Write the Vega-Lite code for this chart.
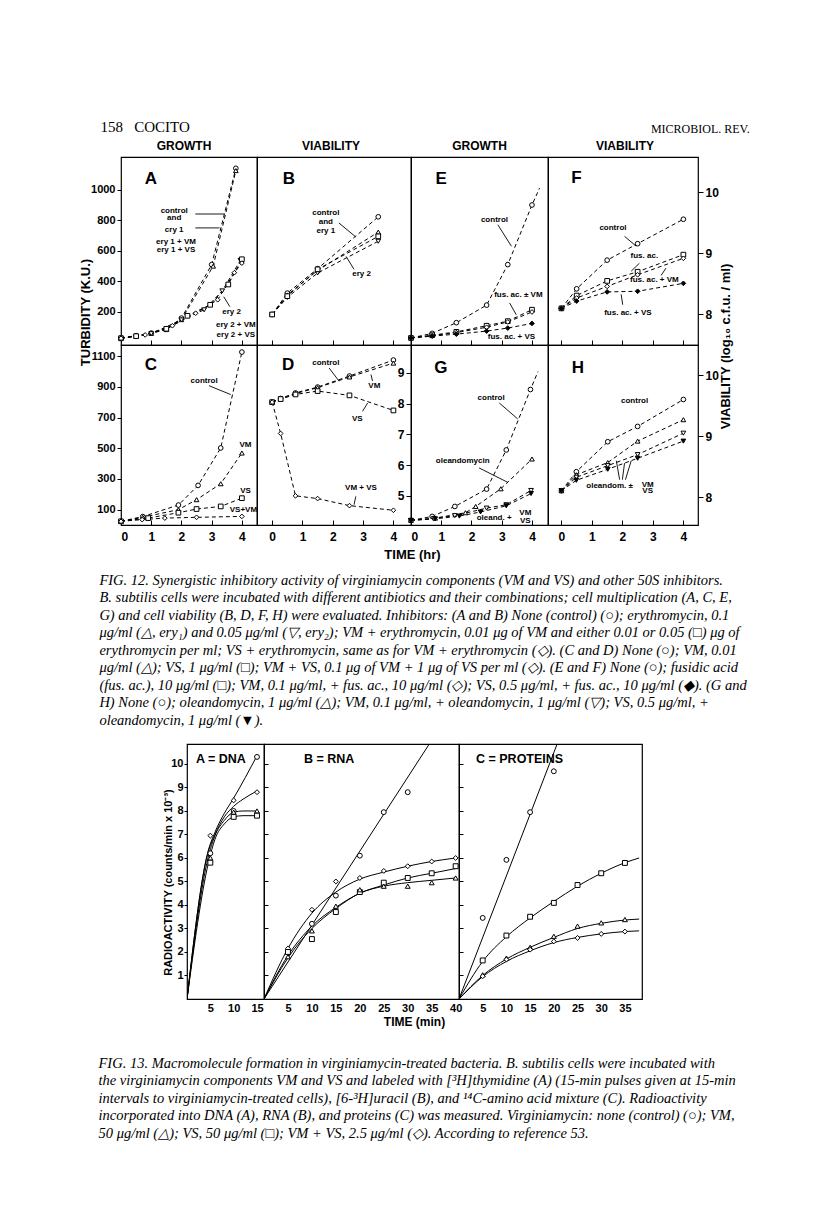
{
  "$schema": "https://vega.github.io/schema/vega-lite/v6.json",
  "background": "white",
  "padding": {"left": 78, "top": 120, "right": 5, "bottom": 5},
  "title": {"text": "158\u00a0\u00a0\u00a0COCITO", "anchor": "start", "frame": "bounds", "font": "Liberation Serif", "fontSize": 15, "fontWeight": "normal", "baseline": "bottom", "offset": 0, "dx": 22, "dy": 27},
  "spacing": 15,
  "datasets": {
    "fig12": [
      {"panel":"A","series":"control","sym":"○","t":0,"v":30},{"panel":"A","series":"control","sym":"○","t":0.5,"v":45},{"panel":"A","series":"control","sym":"○","t":1,"v":62},{"panel":"A","series":"control","sym":"○","t":1.5,"v":88},{"panel":"A","series":"control","sym":"○","t":2,"v":160},{"panel":"A","series":"control","sym":"○","t":3,"v":510},{"panel":"A","series":"control","sym":"○","t":3.8,"v":1140},
      {"panel":"A","series":"ery 1","sym":"△","t":0,"v":30},{"panel":"A","series":"ery 1","sym":"△","t":0.5,"v":42},{"panel":"A","series":"ery 1","sym":"△","t":1,"v":60},{"panel":"A","series":"ery 1","sym":"△","t":1.5,"v":85},{"panel":"A","series":"ery 1","sym":"△","t":2,"v":150},{"panel":"A","series":"ery 1","sym":"△","t":3.05,"v":500},{"panel":"A","series":"ery 1","sym":"△","t":3.8,"v":1125},
      {"panel":"A","series":"ery 2","sym":"▽","t":0,"v":28},{"panel":"A","series":"ery 2","sym":"▽","t":1,"v":58},{"panel":"A","series":"ery 2","sym":"▽","t":2,"v":148},{"panel":"A","series":"ery 2","sym":"▽","t":2.75,"v":214},{"panel":"A","series":"ery 2","sym":"▽","t":3.35,"v":338},{"panel":"A","series":"ery 2","sym":"▽","t":3.95,"v":537},
      {"panel":"A","series":"ery 2 + VM","sym":"□","t":0,"v":28},{"panel":"A","series":"ery 2 + VM","sym":"□","t":0.5,"v":42},{"panel":"A","series":"ery 2 + VM","sym":"□","t":1.5,"v":90},{"panel":"A","series":"ery 2 + VM","sym":"□","t":2.2,"v":175},{"panel":"A","series":"ery 2 + VM","sym":"□","t":2.95,"v":247},{"panel":"A","series":"ery 2 + VM","sym":"□","t":3.55,"v":380},{"panel":"A","series":"ery 2 + VM","sym":"□","t":4,"v":545},
      {"panel":"A","series":"ery 2 + VS","sym":"◇","t":0,"v":28},{"panel":"A","series":"ery 2 + VS","sym":"◇","t":0.8,"v":50},{"panel":"A","series":"ery 2 + VS","sym":"◇","t":1.7,"v":110},{"panel":"A","series":"ery 2 + VS","sym":"◇","t":2.47,"v":192},{"panel":"A","series":"ery 2 + VS","sym":"◇","t":3.2,"v":280},{"panel":"A","series":"ery 2 + VS","sym":"◇","t":3.75,"v":457},{"panel":"A","series":"ery 2 + VS","sym":"◇","t":4,"v":520},

      {"panel":"B","series":"control","sym":"○","t":0,"v":8.0},{"panel":"B","series":"control","sym":"○","t":0.5,"v":8.35},{"panel":"B","series":"control","sym":"○","t":1.5,"v":8.75},{"panel":"B","series":"control","sym":"○","t":3.5,"v":9.6},
      {"panel":"B","series":"ery 1","sym":"△","t":0,"v":8.0},{"panel":"B","series":"ery 1","sym":"△","t":0.5,"v":8.32},{"panel":"B","series":"ery 1","sym":"△","t":1.5,"v":8.72},{"panel":"B","series":"ery 1","sym":"△","t":3.5,"v":9.35},
      {"panel":"B","series":"ery 2","sym":"▽","t":0,"v":8.0},{"panel":"B","series":"ery 2","sym":"▽","t":0.5,"v":8.28},{"panel":"B","series":"ery 2","sym":"▽","t":1.5,"v":8.68},{"panel":"B","series":"ery 2","sym":"▽","t":3.5,"v":9.2},
      {"panel":"B","series":"ery + VM","sym":"□","t":0,"v":8.0},{"panel":"B","series":"ery + VM","sym":"□","t":0.5,"v":8.3},{"panel":"B","series":"ery + VM","sym":"□","t":1.5,"v":8.74},{"panel":"B","series":"ery + VM","sym":"□","t":3.5,"v":9.28},

      {"panel":"E","series":"control","sym":"○","t":0,"v":30},{"panel":"E","series":"control","sym":"○","t":0.7,"v":60},{"panel":"E","series":"control","sym":"○","t":1.5,"v":130},{"panel":"E","series":"control","sym":"○","t":2.5,"v":245},{"panel":"E","series":"control","sym":"○","t":3.2,"v":510},{"panel":"E","series":"control","sym":"○","t":4.0,"v":900},{"panel":"E","series":"control","t":4.25,"v":1010},
      {"panel":"E","series":"fus. ac.","sym":"□","t":0,"v":30},{"panel":"E","series":"fus. ac.","sym":"□","t":0.7,"v":48},{"panel":"E","series":"fus. ac.","sym":"□","t":1.5,"v":70},{"panel":"E","series":"fus. ac.","sym":"□","t":2.5,"v":110},{"panel":"E","series":"fus. ac.","sym":"□","t":3.2,"v":140},{"panel":"E","series":"fus. ac.","sym":"□","t":4.0,"v":215},
      {"panel":"E","series":"fus. ac. + VM","sym":"◇","t":0,"v":30},{"panel":"E","series":"fus. ac. + VM","sym":"◇","t":0.7,"v":45},{"panel":"E","series":"fus. ac. + VM","sym":"◇","t":1.5,"v":65},{"panel":"E","series":"fus. ac. + VM","sym":"◇","t":2.5,"v":100},{"panel":"E","series":"fus. ac. + VM","sym":"◇","t":3.2,"v":135},{"panel":"E","series":"fus. ac. + VM","sym":"◇","t":4.0,"v":200},
      {"panel":"E","series":"fus. ac. + VS","sym":"◆","t":0,"v":30},{"panel":"E","series":"fus. ac. + VS","sym":"◆","t":0.7,"v":42},{"panel":"E","series":"fus. ac. + VS","sym":"◆","t":1.5,"v":55},{"panel":"E","series":"fus. ac. + VS","sym":"◆","t":2.5,"v":75},{"panel":"E","series":"fus. ac. + VS","sym":"◆","t":3.2,"v":95},{"panel":"E","series":"fus. ac. + VS","sym":"◆","t":4.0,"v":125},

      {"panel":"F","series":"control","sym":"○","t":0,"v":8.1},{"panel":"F","series":"control","sym":"○","t":0.5,"v":8.42},{"panel":"F","series":"control","sym":"○","t":1.5,"v":8.89},{"panel":"F","series":"control","sym":"○","t":2.5,"v":9.16},{"panel":"F","series":"control","sym":"○","t":4,"v":9.56},
      {"panel":"F","series":"fus. ac.","sym":"□","t":0,"v":8.1},{"panel":"F","series":"fus. ac.","sym":"□","t":0.5,"v":8.31},{"panel":"F","series":"fus. ac.","sym":"□","t":1.5,"v":8.55},{"panel":"F","series":"fus. ac.","sym":"□","t":2.5,"v":8.7},{"panel":"F","series":"fus. ac.","sym":"□","t":4,"v":8.98},
      {"panel":"F","series":"fus. ac. + VM","sym":"◇","t":0,"v":8.1},{"panel":"F","series":"fus. ac. + VM","sym":"◇","t":0.5,"v":8.27},{"panel":"F","series":"fus. ac. + VM","sym":"◇","t":1.5,"v":8.46},{"panel":"F","series":"fus. ac. + VM","sym":"◇","t":2.5,"v":8.65},{"panel":"F","series":"fus. ac. + VM","sym":"◇","t":4,"v":8.92},
      {"panel":"F","series":"fus. ac. + VS","sym":"◆","t":0,"v":8.1},{"panel":"F","series":"fus. ac. + VS","sym":"◆","t":0.5,"v":8.22},{"panel":"F","series":"fus. ac. + VS","sym":"◆","t":1.5,"v":8.37},{"panel":"F","series":"fus. ac. + VS","sym":"◆","t":2.5,"v":8.38},{"panel":"F","series":"fus. ac. + VS","sym":"◆","t":4,"v":8.51},

      {"panel":"C","series":"control","sym":"○","t":0,"v":24},{"panel":"C","series":"control","sym":"○","t":0.72,"v":55},{"panel":"C","series":"control","sym":"○","t":1.9,"v":130},{"panel":"C","series":"control","sym":"○","t":2.55,"v":258},{"panel":"C","series":"control","sym":"○","t":3.3,"v":502},{"panel":"C","series":"control","sym":"○","t":4.0,"v":1127},
      {"panel":"C","series":"VM","sym":"△","t":0,"v":24},{"panel":"C","series":"VM","sym":"△","t":0.72,"v":50},{"panel":"C","series":"VM","sym":"△","t":1.9,"v":100},{"panel":"C","series":"VM","sym":"△","t":2.5,"v":165},{"panel":"C","series":"VM","sym":"△","t":3.3,"v":269},{"panel":"C","series":"VM","sym":"△","t":4.0,"v":469},
      {"panel":"C","series":"VS","sym":"□","t":0,"v":24},{"panel":"C","series":"VS","sym":"□","t":0.9,"v":45},{"panel":"C","series":"VS","sym":"□","t":1.9,"v":80},{"panel":"C","series":"VS","sym":"□","t":2.5,"v":104},{"panel":"C","series":"VS","sym":"□","t":3.3,"v":121},{"panel":"C","series":"VS","sym":"□","t":4.0,"v":175},
      {"panel":"C","series":"VS+VM","sym":"◇","t":0,"v":24},{"panel":"C","series":"VS+VM","sym":"◇","t":0.7,"v":35},{"panel":"C","series":"VS+VM","sym":"◇","t":1.45,"v":45},{"panel":"C","series":"VS+VM","sym":"◇","t":2.5,"v":50},{"panel":"C","series":"VS+VM","sym":"◇","t":4.0,"v":56},

      {"panel":"D","series":"control","sym":"○","t":0,"v":8.05},{"panel":"D","series":"control","sym":"○","t":0.28,"v":8.17},{"panel":"D","series":"control","sym":"○","t":0.77,"v":8.35},{"panel":"D","series":"control","sym":"○","t":1.5,"v":8.54},{"panel":"D","series":"control","sym":"○","t":2.55,"v":8.9},{"panel":"D","series":"control","sym":"○","t":4.0,"v":9.42},
      {"panel":"D","series":"VM","sym":"△","t":0,"v":8.05},{"panel":"D","series":"VM","sym":"△","t":0.28,"v":8.15},{"panel":"D","series":"VM","sym":"△","t":0.77,"v":8.33},{"panel":"D","series":"VM","sym":"△","t":1.5,"v":8.52},{"panel":"D","series":"VM","sym":"△","t":2.55,"v":8.87},{"panel":"D","series":"VM","sym":"△","t":4.0,"v":9.32},
      {"panel":"D","series":"VS","sym":"□","t":0,"v":8.05},{"panel":"D","series":"VS","sym":"□","t":0.28,"v":8.15},{"panel":"D","series":"VS","sym":"□","t":0.77,"v":8.3},{"panel":"D","series":"VS","sym":"□","t":1.5,"v":8.41},{"panel":"D","series":"VS","sym":"□","t":2.55,"v":8.27},{"panel":"D","series":"VS","sym":"□","t":4.0,"v":7.78},
      {"panel":"D","series":"VM + VS","sym":"◇","t":0,"v":8.05},{"panel":"D","series":"VM + VS","sym":"◇","t":0.28,"v":7.03},{"panel":"D","series":"VM + VS","sym":"◇","t":0.77,"v":5.0},{"panel":"D","series":"VM + VS","sym":"◇","t":1.5,"v":4.91},{"panel":"D","series":"VM + VS","sym":"◇","t":2.55,"v":4.68},{"panel":"D","series":"VM + VS","sym":"◇","t":4.0,"v":4.53},

      {"panel":"G","series":"control","sym":"○","t":0,"v":30},{"panel":"G","series":"control","sym":"○","t":0.7,"v":56},{"panel":"G","series":"control","sym":"○","t":1.45,"v":121},{"panel":"G","series":"control","sym":"○","t":2.5,"v":234},{"panel":"G","series":"control","sym":"○","t":3.15,"v":489},{"panel":"G","series":"control","sym":"○","t":3.95,"v":883},{"panel":"G","series":"control","t":4.2,"v":1000},
      {"panel":"G","series":"oleandomycin","sym":"△","t":0,"v":30},{"panel":"G","series":"oleandomycin","sym":"△","t":0.8,"v":45},{"panel":"G","series":"oleandomycin","sym":"△","t":1.8,"v":80},{"panel":"G","series":"oleandomycin","sym":"△","t":2.14,"v":121},{"panel":"G","series":"oleandomycin","sym":"△","t":2.97,"v":236},{"panel":"G","series":"oleandomycin","sym":"△","t":4.0,"v":430},
      {"panel":"G","series":"VM + oleand.","sym":"▽","t":0,"v":30},{"panel":"G","series":"VM + oleand.","sym":"▽","t":0.75,"v":42},{"panel":"G","series":"VM + oleand.","sym":"▽","t":1.45,"v":61},{"panel":"G","series":"VM + oleand.","sym":"▽","t":2.5,"v":110},{"panel":"G","series":"VM + oleand.","sym":"▽","t":3.15,"v":132},{"panel":"G","series":"VM + oleand.","sym":"▽","t":3.97,"v":225},
      {"panel":"G","series":"VS + oleand.","sym":"▼","t":0,"v":30},{"panel":"G","series":"VS + oleand.","sym":"▼","t":0.8,"v":40},{"panel":"G","series":"VS + oleand.","sym":"▼","t":1.6,"v":58},{"panel":"G","series":"VS + oleand.","sym":"▼","t":2.3,"v":85},{"panel":"G","series":"VS + oleand.","sym":"▼","t":3.15,"v":125},{"panel":"G","series":"VS + oleand.","sym":"▼","t":3.97,"v":205},

      {"panel":"H","series":"control","sym":"○","t":0,"v":8.11},{"panel":"H","series":"control","sym":"○","t":0.49,"v":8.42},{"panel":"H","series":"control","sym":"○","t":1.52,"v":8.91},{"panel":"H","series":"control","sym":"○","t":2.5,"v":9.16},{"panel":"H","series":"control","sym":"○","t":4.0,"v":9.6},
      {"panel":"H","series":"oleandomycin","sym":"△","t":0,"v":8.11},{"panel":"H","series":"oleandomycin","sym":"△","t":0.49,"v":8.37},{"panel":"H","series":"oleandomycin","sym":"△","t":1.52,"v":8.57},{"panel":"H","series":"oleandomycin","sym":"△","t":2.5,"v":8.92},{"panel":"H","series":"oleandomycin","sym":"△","t":4.0,"v":9.27},
      {"panel":"H","series":"VM + oleand.","sym":"▽","t":0,"v":8.11},{"panel":"H","series":"VM + oleand.","sym":"▽","t":0.49,"v":8.33},{"panel":"H","series":"VM + oleand.","sym":"▽","t":1.52,"v":8.52},{"panel":"H","series":"VM + oleand.","sym":"▽","t":2.5,"v":8.7},{"panel":"H","series":"VM + oleand.","sym":"▽","t":4.0,"v":9.05},
      {"panel":"H","series":"VS + oleand.","sym":"▼","t":0,"v":8.11},{"panel":"H","series":"VS + oleand.","sym":"▼","t":0.49,"v":8.28},{"panel":"H","series":"VS + oleand.","sym":"▼","t":1.52,"v":8.46},{"panel":"H","series":"VS + oleand.","sym":"▼","t":2.5,"v":8.64},{"panel":"H","series":"VS + oleand.","sym":"▼","t":4.0,"v":8.92}
    ],
    "letters": [
      {"panel":"A","label":"A","t":0.99,"v":1070},{"panel":"B","label":"B","t":0.55,"v":10.22},{"panel":"E","label":"E","t":1.0,"v":1070},{"panel":"F","label":"F","t":0.49,"v":10.24},
      {"panel":"C","label":"C","t":0.99,"v":1043},{"panel":"D","label":"D","t":0.53,"v":9.26},{"panel":"G","label":"G","t":0.99,"v":1024},{"panel":"H","label":"H","t":0.54,"v":10.12}
    ],
    "notes": [
      {"panel":"A","label":"control","t":1.76,"v":862},{"panel":"A","label":"and","t":1.76,"v":815},{"panel":"A","label":"cry 1","t":1.76,"v":737},{"panel":"A","label":"ery 1 + VM","t":1.82,"v":660},{"panel":"A","label":"ery 1 + VS","t":1.82,"v":603},{"panel":"A","label":"ery 2","t":3.66,"v":200},{"panel":"A","label":"ery 2 + VM","t":3.8,"v":118},{"panel":"A","label":"ery 2 + VS","t":3.8,"v":52},
      {"panel":"B","label":"control","t":1.77,"v":9.66},{"panel":"B","label":"and","t":1.77,"v":9.51},{"panel":"B","label":"ery 1","t":1.77,"v":9.37},{"panel":"B","label":"ery 2","t":2.95,"v":8.67},
      {"panel":"E","label":"control","t":2.76,"v":804},{"panel":"E","label":"fus. ac. ± VM","t":3.55,"v":313},{"panel":"E","label":"fus. ac. + VS","t":3.32,"v":38},
      {"panel":"F","label":"control","t":1.69,"v":9.42},{"panel":"F","label":"fus. ac.","t":2.72,"v":8.95},{"panel":"F","label":"fus. ac. + VM","t":3.05,"v":8.56},{"panel":"F","label":"fus. ac. + VS","t":2.18,"v":8.03},
      {"panel":"C","label":"control","t":2.75,"v":937},{"panel":"C","label":"VM","t":4.12,"v":524},{"panel":"C","label":"VS","t":4.12,"v":220},{"panel":"C","label":"VS+VM","t":4.05,"v":100},
      {"panel":"D","label":"control","t":1.77,"v":9.33},{"panel":"D","label":"VM","t":3.37,"v":8.59},{"panel":"D","label":"VS","t":2.81,"v":7.5},{"panel":"D","label":"VM + VS","t":2.93,"v":5.25},
      {"panel":"G","label":"control","t":2.65,"v":828},{"panel":"G","label":"oleandomycin","t":1.71,"v":415},{"panel":"G","label":"oleand. +","t":2.75,"v":46},{"panel":"G","label":"VM","t":3.78,"v":80},{"panel":"G","label":"VS","t":3.78,"v":26},
      {"panel":"H","label":"control","t":2.4,"v":9.57},{"panel":"H","label":"oleandom. ±","t":1.58,"v":8.18},{"panel":"H","label":"VM","t":2.83,"v":8.21},{"panel":"H","label":"VS","t":2.83,"v":8.1}
    ],
    "pointers": [
      {"panel":"A","t":2.46,"v":841,"t2":3.42,"v2":841},{"panel":"A","t":2.46,"v":750,"t2":3.26,"v2":750},{"panel":"A","t":3.6,"v":235,"t2":3.4,"v2":300},
      {"panel":"B","t":2.2,"v":9.5,"t2":2.76,"v2":9.27},{"panel":"B","t":2.7,"v":8.74,"t2":2.44,"v2":8.95},
      {"panel":"E","t":2.87,"v":771,"t2":3.32,"v2":630},{"panel":"E","t":3.26,"v":259,"t2":3.48,"v2":182},
      {"panel":"F","t":2.07,"v":9.28,"t2":2.45,"v2":9.12},{"panel":"F","t":2.56,"v":8.84,"t2":2.29,"v2":8.71},{"panel":"F","t":3.43,"v":8.76,"t2":3.27,"v2":8.64},{"panel":"F","t":2.01,"v":8.16,"t2":1.96,"v2":8.33},
      {"panel":"C","t":2.91,"v":908,"t2":3.63,"v2":850},
      {"panel":"D","t":1.88,"v":9.16,"t2":2.21,"v2":8.73},{"panel":"D","t":3.31,"v":8.74,"t2":3.26,"v2":8.95},{"panel":"D","t":2.98,"v":7.75,"t2":3.15,"v2":8.02},{"panel":"D","t":2.76,"v":4.98,"t2":2.7,"v2":4.71},
      {"panel":"G","t":2.92,"v":795,"t2":3.53,"v2":691},{"panel":"G","t":2.25,"v":372,"t2":3.2,"v2":278},
      {"panel":"H","t":1.91,"v":8.29,"t2":1.8,"v2":8.6},{"panel":"H","t":2.0,"v":8.29,"t2":2.07,"v2":8.56},{"panel":"H","t":2.1,"v":8.29,"t2":2.29,"v2":8.6}
    ],
    "fig13pts": [
      {"panel":"DNA","sym":"○","t":5,"v":6.2},{"panel":"DNA","sym":"○","t":10,"v":8.0},{"panel":"DNA","sym":"○","t":15,"v":10.3},
      {"panel":"DNA","sym":"◇","t":5,"v":6.95},{"panel":"DNA","sym":"◇","t":10,"v":8.45},{"panel":"DNA","sym":"◇","t":15,"v":8.8},
      {"panel":"DNA","sym":"△","t":5,"v":6.0},{"panel":"DNA","sym":"△","t":10,"v":7.95},{"panel":"DNA","sym":"△","t":15,"v":8.0},
      {"panel":"DNA","sym":"□","t":5,"v":5.8},{"panel":"DNA","sym":"□","t":10,"v":7.75},{"panel":"DNA","sym":"□","t":15,"v":7.8},
      {"panel":"RNA","sym":"○","t":5,"v":2.05},{"panel":"RNA","sym":"○","t":10,"v":3.2},{"panel":"RNA","sym":"○","t":15,"v":4.4},{"panel":"RNA","sym":"○","t":20,"v":6.1},{"panel":"RNA","sym":"○","t":25,"v":7.95},{"panel":"RNA","sym":"○","t":30,"v":8.8},
      {"panel":"RNA","sym":"◇","t":5,"v":2.15},{"panel":"RNA","sym":"◇","t":10,"v":3.8},{"panel":"RNA","sym":"◇","t":15,"v":5.0},{"panel":"RNA","sym":"◇","t":20,"v":5.15},{"panel":"RNA","sym":"◇","t":25,"v":5.45},{"panel":"RNA","sym":"◇","t":30,"v":5.65},{"panel":"RNA","sym":"◇","t":35,"v":5.85},{"panel":"RNA","sym":"◇","t":40,"v":6.0},
      {"panel":"RNA","sym":"□","t":5,"v":2.0},{"panel":"RNA","sym":"□","t":10,"v":2.55},{"panel":"RNA","sym":"□","t":15,"v":3.7},{"panel":"RNA","sym":"□","t":20,"v":4.55},{"panel":"RNA","sym":"□","t":25,"v":4.95},{"panel":"RNA","sym":"□","t":30,"v":5.15},{"panel":"RNA","sym":"□","t":35,"v":5.35},{"panel":"RNA","sym":"□","t":40,"v":5.65},
      {"panel":"RNA","sym":"△","t":5,"v":1.8},{"panel":"RNA","sym":"△","t":10,"v":2.9},{"panel":"RNA","sym":"△","t":15,"v":3.95},{"panel":"RNA","sym":"△","t":20,"v":4.65},{"panel":"RNA","sym":"△","t":25,"v":4.8},{"panel":"RNA","sym":"△","t":30,"v":4.8},{"panel":"RNA","sym":"△","t":35,"v":4.95},{"panel":"RNA","sym":"△","t":40,"v":5.15},
      {"panel":"PROT","sym":"○","t":5,"v":3.45},{"panel":"PROT","sym":"○","t":10,"v":5.92},{"panel":"PROT","sym":"○","t":15,"v":7.95},{"panel":"PROT","sym":"○","t":20,"v":9.69},
      {"panel":"PROT","sym":"□","t":5,"v":1.64},{"panel":"PROT","sym":"□","t":10,"v":2.7},{"panel":"PROT","sym":"□","t":15,"v":3.5},{"panel":"PROT","sym":"□","t":20,"v":4.09},{"panel":"PROT","sym":"□","t":25,"v":4.85},{"panel":"PROT","sym":"□","t":30,"v":5.35},{"panel":"PROT","sym":"□","t":35,"v":5.79},
      {"panel":"PROT","sym":"△","t":5,"v":1.03},{"panel":"PROT","sym":"△","t":10,"v":1.74},{"panel":"PROT","sym":"△","t":15,"v":2.2},{"panel":"PROT","sym":"△","t":20,"v":2.67},{"panel":"PROT","sym":"△","t":25,"v":3.1},{"panel":"PROT","sym":"△","t":30,"v":3.24},{"panel":"PROT","sym":"△","t":35,"v":3.38},
      {"panel":"PROT","sym":"◇","t":5,"v":0.97},{"panel":"PROT","sym":"◇","t":10,"v":1.68},{"panel":"PROT","sym":"◇","t":15,"v":2.1},{"panel":"PROT","sym":"◇","t":20,"v":2.45},{"panel":"PROT","sym":"◇","t":25,"v":2.6},{"panel":"PROT","sym":"◇","t":30,"v":2.77},{"panel":"PROT","sym":"◇","t":35,"v":2.87}
    ],
    "fig13curves": [
      {"panel":"DNA","series":"control","t":0,"v":0},{"panel":"DNA","series":"control","t":4.4,"v":6.2},{"panel":"DNA","series":"control","t":6,"v":7.1},{"panel":"DNA","series":"control","t":8,"v":7.9},{"panel":"DNA","series":"control","t":10,"v":8.55},{"panel":"DNA","series":"control","t":15,"v":10.35},
      {"panel":"DNA","series":"VM + VS","t":0,"v":0},{"panel":"DNA","series":"VM + VS","t":4.4,"v":6.15},{"panel":"DNA","series":"VM + VS","t":6,"v":7.0},{"panel":"DNA","series":"VM + VS","t":8,"v":7.75},{"panel":"DNA","series":"VM + VS","t":10,"v":8.2},{"panel":"DNA","series":"VM + VS","t":12,"v":8.5},{"panel":"DNA","series":"VM + VS","t":15,"v":8.85},
      {"panel":"DNA","series":"VM","t":0,"v":0},{"panel":"DNA","series":"VM","t":4.5,"v":6.0},{"panel":"DNA","series":"VM","t":6,"v":6.95},{"panel":"DNA","series":"VM","t":8,"v":7.6},{"panel":"DNA","series":"VM","t":10,"v":7.95},{"panel":"DNA","series":"VM","t":12,"v":8.0},{"panel":"DNA","series":"VM","t":15,"v":8.0},
      {"panel":"DNA","series":"VS","t":0,"v":0},{"panel":"DNA","series":"VS","t":4.6,"v":5.8},{"panel":"DNA","series":"VS","t":6,"v":6.8},{"panel":"DNA","series":"VS","t":8,"v":7.45},{"panel":"DNA","series":"VS","t":10,"v":7.75},{"panel":"DNA","series":"VS","t":12,"v":7.8},{"panel":"DNA","series":"VS","t":15,"v":7.8},
      {"panel":"RNA","series":"control","t":0,"v":0},{"panel":"RNA","series":"control","t":34.5,"v":10.85},
      {"panel":"RNA","series":"VM + VS","t":0,"v":0},{"panel":"RNA","series":"VM + VS","t":5,"v":2.15},{"panel":"RNA","series":"VM + VS","t":10,"v":3.65},{"panel":"RNA","series":"VM + VS","t":15,"v":4.55},{"panel":"RNA","series":"VM + VS","t":20,"v":5.1},{"panel":"RNA","series":"VM + VS","t":25,"v":5.4},{"panel":"RNA","series":"VM + VS","t":30,"v":5.65},{"panel":"RNA","series":"VM + VS","t":35,"v":5.85},{"panel":"RNA","series":"VM + VS","t":40,"v":6.0},
      {"panel":"RNA","series":"VS","t":0,"v":0},{"panel":"RNA","series":"VS","t":5,"v":1.85},{"panel":"RNA","series":"VS","t":10,"v":3.1},{"panel":"RNA","series":"VS","t":15,"v":3.9},{"panel":"RNA","series":"VS","t":20,"v":4.5},{"panel":"RNA","series":"VS","t":25,"v":4.85},{"panel":"RNA","series":"VS","t":30,"v":5.15},{"panel":"RNA","series":"VS","t":35,"v":5.35},{"panel":"RNA","series":"VS","t":40,"v":5.55},
      {"panel":"RNA","series":"VM","t":0,"v":0},{"panel":"RNA","series":"VM","t":5,"v":1.75},{"panel":"RNA","series":"VM","t":10,"v":3.0},{"panel":"RNA","series":"VM","t":15,"v":3.85},{"panel":"RNA","series":"VM","t":20,"v":4.5},{"panel":"RNA","series":"VM","t":25,"v":4.8},{"panel":"RNA","series":"VM","t":30,"v":4.95},{"panel":"RNA","series":"VM","t":35,"v":5.05},{"panel":"RNA","series":"VM","t":40,"v":5.15},
      {"panel":"PROT","series":"control","t":0,"v":0},{"panel":"PROT","series":"control","t":20.7,"v":10.85},
      {"panel":"PROT","series":"VS","t":0,"v":0},{"panel":"PROT","series":"VS","t":5,"v":1.6},{"panel":"PROT","series":"VS","t":10,"v":2.65},{"panel":"PROT","series":"VS","t":15,"v":3.45},{"panel":"PROT","series":"VS","t":20,"v":4.15},{"panel":"PROT","series":"VS","t":25,"v":4.8},{"panel":"PROT","series":"VS","t":30,"v":5.35},{"panel":"PROT","series":"VS","t":35,"v":5.8},{"panel":"PROT","series":"VS","t":38,"v":6.0},
      {"panel":"PROT","series":"VM","t":0,"v":0},{"panel":"PROT","series":"VM","t":5,"v":1.0},{"panel":"PROT","series":"VM","t":10,"v":1.7},{"panel":"PROT","series":"VM","t":15,"v":2.2},{"panel":"PROT","series":"VM","t":20,"v":2.62},{"panel":"PROT","series":"VM","t":25,"v":3.0},{"panel":"PROT","series":"VM","t":30,"v":3.22},{"panel":"PROT","series":"VM","t":35,"v":3.36},{"panel":"PROT","series":"VM","t":38,"v":3.4},
      {"panel":"PROT","series":"VM + VS","t":0,"v":0},{"panel":"PROT","series":"VM + VS","t":5,"v":0.95},{"panel":"PROT","series":"VM + VS","t":10,"v":1.6},{"panel":"PROT","series":"VM + VS","t":15,"v":2.05},{"panel":"PROT","series":"VM + VS","t":20,"v":2.4},{"panel":"PROT","series":"VM + VS","t":25,"v":2.62},{"panel":"PROT","series":"VM + VS","t":30,"v":2.77},{"panel":"PROT","series":"VM + VS","t":35,"v":2.87},{"panel":"PROT","series":"VM + VS","t":38,"v":2.9}
    ]
  },
  "vconcat": [
    {
      "title": {"text": "MICROBIOL. REV.", "anchor": "end", "frame": "bounds", "font": "Liberation Serif", "fontSize": 12, "fontWeight": "normal", "baseline": "bottom", "offset": -9, "dx": 3},
      "vconcat": [
        {
          "title": {"text": [
            "\u00a0\u00a0\u00a0FIG. 12. Synergistic inhibitory activity of virginiamycin components (VM and VS) and other 50S inhibitors.",
            "B. subtilis cells were incubated with different antibiotics and their combinations; cell multiplication (A, C, E,",
            "G) and cell viability (B, D, F, H) were evaluated. Inhibitors: (A and B) None (control) (○); erythromycin, 0.1",
            "μg/ml (△, ery₁) and 0.05 μg/ml (▽, ery₂); VM + erythromycin, 0.01 μg of VM and either 0.01 or 0.05 (□) μg of",
            "erythromycin per ml; VS + erythromycin, same as for VM + erythromycin (◇). (C and D) None (○); VM, 0.01",
            "μg/ml (△); VS, 1 μg/ml (□); VM + VS, 0.1 μg of VM + 1 μg of VS per ml (◇). (E and F) None (○); fusidic acid",
            "(fus. ac.), 10 μg/ml (□); VM, 0.1 μg/ml, + fus. ac., 10 μg/ml (◇); VS, 0.5 μg/ml, + fus. ac., 10 μg/ml (◆). (G and",
            "H) None (○); oleandomycin, 1 μg/ml (△); VM, 0.1 μg/ml, + oleandomycin, 1 μg/ml (▽); VS, 0.5 μg/ml, +",
            "oleandomycin, 1 μg/ml (▼)."],
            "orient": "bottom", "anchor": "start", "frame": "bounds", "font": "Liberation Serif", "fontStyle": "italic", "fontWeight": "normal", "fontSize": 14.5, "lineHeight": 17.5, "offset": 12, "dx": 21},
          "columns": 4,
          "align": "each",
          "bounds": "flush",
          "spacing": 0,
          "concat": [
            {
              "width": 136, "height": 188,
              "title": {"text": "GROWTH", "anchor": "middle", "frame": "group", "offset": -8, "baseline": "bottom", "fontSize": 12, "dx": -5},
              "encoding": {
                "x": {"field": "t", "type": "quantitative", "scale": {"domain": [0, 4.5], "nice": false, "zero": false}, "axis": {"values": [0,1,2,3,4], "labels": false, "tickSize": -5, "title": null}},
                "y": {"field": "v", "type": "quantitative", "scale": {"domain": [-16, 1214], "nice": false, "zero": false}, "axis": {"values": [200,400,600,800,1000], "format": "d", "tickSize": 4, "title": "TURBIDITY  (K.U.)", "titleAngle": 270, "titleX": -36, "titleY": 155, "titleBaseline": "middle", "titleAlign": "center"}}
              },
              "layer": [
                {"data": {"name": "fig12"}, "transform": [{"filter": "datum.panel === 'A'"}], "mark": {"type": "line", "stroke": "black", "strokeWidth": 1, "strokeDash": [4, 3], "clip": true}, "encoding": {"detail": {"field": "series"}}},
                {"data": {"name": "fig12"}, "transform": [{"filter": "datum.panel === 'A' && datum.sym != null"}], "mark": {"type": "point", "filled": true, "size": 22, "stroke": "black", "strokeWidth": 1, "opacity": 1}, "encoding": {"shape": {"field": "sym", "type": "nominal", "legend": null, "scale": {"domain": ["○","△","▽","□","◇","◆","▼"], "range": ["circle","triangle-up","triangle-down","square","diamond","diamond","triangle-down"]}}, "fill": {"field": "sym", "type": "nominal", "legend": null, "scale": {"domain": ["○","△","▽","□","◇","◆","▼"], "range": ["white","white","white","white","white","black","black"]}}}},
                {"data": {"name": "notes"}, "transform": [{"filter": "datum.panel === 'A'"}], "mark": {"type": "text", "fontSize": 8, "fontWeight": "bold", "color": "black"}, "encoding": {"text": {"field": "label"}}},
                {"data": {"name": "letters"}, "transform": [{"filter": "datum.panel === 'A'"}], "mark": {"type": "text", "fontSize": 17, "fontWeight": "bold", "color": "black"}, "encoding": {"text": {"field": "label"}}},
                {"data": {"name": "pointers"}, "transform": [{"filter": "datum.panel === 'A'"}], "mark": {"type": "rule", "stroke": "black", "strokeWidth": 0.9}, "encoding": {"x2": {"field": "t2"}, "y2": {"field": "v2"}}}
              ]
            },
            {
              "width": 154, "height": 188,
              "title": {"text": "VIABILITY", "anchor": "middle", "frame": "group", "offset": -8, "baseline": "bottom", "fontSize": 12, "dx": -3},
              "encoding": {
                "x": {"field": "t", "type": "quantitative", "scale": {"domain": [-0.5, 4.58], "nice": false, "zero": false}, "axis": {"values": [0,1,2,3,4], "labels": false, "tickSize": -5, "title": null}},
                "y": {"field": "v", "type": "quantitative", "scale": {"domain": [7.5, 10.58], "nice": false, "zero": false}, "axis": null}
              },
              "layer": [
                {"data": {"name": "fig12"}, "transform": [{"filter": "datum.panel === 'B'"}], "mark": {"type": "line", "stroke": "black", "strokeWidth": 1, "strokeDash": [4, 3], "clip": true}, "encoding": {"detail": {"field": "series"}}},
                {"data": {"name": "fig12"}, "transform": [{"filter": "datum.panel === 'B' && datum.sym != null"}], "mark": {"type": "point", "filled": true, "size": 22, "stroke": "black", "strokeWidth": 1, "opacity": 1}, "encoding": {"shape": {"field": "sym", "type": "nominal", "legend": null, "scale": {"domain": ["○","△","▽","□","◇","◆","▼"], "range": ["circle","triangle-up","triangle-down","square","diamond","diamond","triangle-down"]}}, "fill": {"field": "sym", "type": "nominal", "legend": null, "scale": {"domain": ["○","△","▽","□","◇","◆","▼"], "range": ["white","white","white","white","white","black","black"]}}}},
                {"data": {"name": "notes"}, "transform": [{"filter": "datum.panel === 'B'"}], "mark": {"type": "text", "fontSize": 8, "fontWeight": "bold", "color": "black"}, "encoding": {"text": {"field": "label"}}},
                {"data": {"name": "letters"}, "transform": [{"filter": "datum.panel === 'B'"}], "mark": {"type": "text", "fontSize": 17, "fontWeight": "bold", "color": "black"}, "encoding": {"text": {"field": "label"}}},
                {"data": {"name": "pointers"}, "transform": [{"filter": "datum.panel === 'B'"}], "mark": {"type": "rule", "stroke": "black", "strokeWidth": 0.9}, "encoding": {"x2": {"field": "t2"}, "y2": {"field": "v2"}}}
              ]
            },
            {
              "width": 137, "height": 188,
              "title": {"text": "GROWTH", "anchor": "middle", "frame": "group", "offset": -8, "baseline": "bottom", "fontSize": 12, "dx": 0},
              "encoding": {
                "x": {"field": "t", "type": "quantitative", "scale": {"domain": [0, 4.53], "nice": false, "zero": false}, "axis": {"values": [0,1,2,3,4], "labels": false, "tickSize": -5, "title": null}},
                "y": {"field": "v", "type": "quantitative", "scale": {"domain": [-16, 1214], "nice": false, "zero": false}, "axis": null}
              },
              "layer": [
                {"data": {"name": "fig12"}, "transform": [{"filter": "datum.panel === 'E'"}], "mark": {"type": "line", "stroke": "black", "strokeWidth": 1, "strokeDash": [4, 3], "clip": true}, "encoding": {"detail": {"field": "series"}}},
                {"data": {"name": "fig12"}, "transform": [{"filter": "datum.panel === 'E' && datum.sym != null"}], "mark": {"type": "point", "filled": true, "size": 22, "stroke": "black", "strokeWidth": 1, "opacity": 1}, "encoding": {"shape": {"field": "sym", "type": "nominal", "legend": null, "scale": {"domain": ["○","△","▽","□","◇","◆","▼"], "range": ["circle","triangle-up","triangle-down","square","diamond","diamond","triangle-down"]}}, "fill": {"field": "sym", "type": "nominal", "legend": null, "scale": {"domain": ["○","△","▽","□","◇","◆","▼"], "range": ["white","white","white","white","white","black","black"]}}}},
                {"data": {"name": "notes"}, "transform": [{"filter": "datum.panel === 'E'"}], "mark": {"type": "text", "fontSize": 8, "fontWeight": "bold", "color": "black"}, "encoding": {"text": {"field": "label"}}},
                {"data": {"name": "letters"}, "transform": [{"filter": "datum.panel === 'E'"}], "mark": {"type": "text", "fontSize": 17, "fontWeight": "bold", "color": "black"}, "encoding": {"text": {"field": "label"}}},
                {"data": {"name": "pointers"}, "transform": [{"filter": "datum.panel === 'E'"}], "mark": {"type": "rule", "stroke": "black", "strokeWidth": 0.9}, "encoding": {"x2": {"field": "t2"}, "y2": {"field": "v2"}}}
              ]
            },
            {
              "width": 150, "height": 188,
              "title": {"text": "VIABILITY", "anchor": "middle", "frame": "group", "offset": -8, "baseline": "bottom", "fontSize": 12, "dx": 2},
              "encoding": {
                "x": {"field": "t", "type": "quantitative", "scale": {"domain": [-0.44, 4.48], "nice": false, "zero": false}, "axis": {"values": [0,1,2,3,4], "labels": false, "tickSize": -5, "title": null}},
                "y": {"field": "v", "type": "quantitative", "scale": {"domain": [7.5, 10.58], "nice": false, "zero": false}, "axis": {"orient": "right", "values": [8,9,10], "tickSize": 5, "labelFontSize": 12, "title": "VIABILITY  (log₁₀  c.f.u. / ml)", "titleAngle": 270, "titleX": 27, "titleY": 189, "titleBaseline": "middle", "titleAlign": "center"}}
              },
              "layer": [
                {"data": {"name": "fig12"}, "transform": [{"filter": "datum.panel === 'F'"}], "mark": {"type": "line", "stroke": "black", "strokeWidth": 1, "strokeDash": [4, 3], "clip": true}, "encoding": {"detail": {"field": "series"}}},
                {"data": {"name": "fig12"}, "transform": [{"filter": "datum.panel === 'F' && datum.sym != null"}], "mark": {"type": "point", "filled": true, "size": 22, "stroke": "black", "strokeWidth": 1, "opacity": 1}, "encoding": {"shape": {"field": "sym", "type": "nominal", "legend": null, "scale": {"domain": ["○","△","▽","□","◇","◆","▼"], "range": ["circle","triangle-up","triangle-down","square","diamond","diamond","triangle-down"]}}, "fill": {"field": "sym", "type": "nominal", "legend": null, "scale": {"domain": ["○","△","▽","□","◇","◆","▼"], "range": ["white","white","white","white","white","black","black"]}}}},
                {"data": {"name": "notes"}, "transform": [{"filter": "datum.panel === 'F'"}], "mark": {"type": "text", "fontSize": 8, "fontWeight": "bold", "color": "black"}, "encoding": {"text": {"field": "label"}}},
                {"data": {"name": "letters"}, "transform": [{"filter": "datum.panel === 'F'"}], "mark": {"type": "text", "fontSize": 17, "fontWeight": "bold", "color": "black"}, "encoding": {"text": {"field": "label"}}},
                {"data": {"name": "pointers"}, "transform": [{"filter": "datum.panel === 'F'"}], "mark": {"type": "rule", "stroke": "black", "strokeWidth": 0.9}, "encoding": {"x2": {"field": "t2"}, "y2": {"field": "v2"}}}
              ]
            },
            {
              "width": 136, "height": 180,
              "encoding": {
                "x": {"field": "t", "type": "quantitative", "scale": {"domain": [0, 4.5], "nice": false, "zero": false}, "axis": {"values": [0,1,2,3,4], "tickSize": -5, "labelPadding": 11, "labelFontSize": 12, "title": null}},
                "y": {"field": "v", "type": "quantitative", "scale": {"domain": [0, 1173], "nice": false, "zero": false}, "axis": {"values": [100,300,500,700,900,1100], "format": "d", "tickSize": 4, "title": null}}
              },
              "layer": [
                {"data": {"name": "fig12"}, "transform": [{"filter": "datum.panel === 'C'"}], "mark": {"type": "line", "stroke": "black", "strokeWidth": 1, "strokeDash": [4, 3], "clip": true}, "encoding": {"detail": {"field": "series"}}},
                {"data": {"name": "fig12"}, "transform": [{"filter": "datum.panel === 'C' && datum.sym != null"}], "mark": {"type": "point", "filled": true, "size": 22, "stroke": "black", "strokeWidth": 1, "opacity": 1}, "encoding": {"shape": {"field": "sym", "type": "nominal", "legend": null, "scale": {"domain": ["○","△","▽","□","◇","◆","▼"], "range": ["circle","triangle-up","triangle-down","square","diamond","diamond","triangle-down"]}}, "fill": {"field": "sym", "type": "nominal", "legend": null, "scale": {"domain": ["○","△","▽","□","◇","◆","▼"], "range": ["white","white","white","white","white","black","black"]}}}},
                {"data": {"name": "notes"}, "transform": [{"filter": "datum.panel === 'C'"}], "mark": {"type": "text", "fontSize": 8, "fontWeight": "bold", "color": "black"}, "encoding": {"text": {"field": "label"}}},
                {"data": {"name": "letters"}, "transform": [{"filter": "datum.panel === 'C'"}], "mark": {"type": "text", "fontSize": 17, "fontWeight": "bold", "color": "black"}, "encoding": {"text": {"field": "label"}}},
                {"data": {"name": "pointers"}, "transform": [{"filter": "datum.panel === 'C'"}], "mark": {"type": "rule", "stroke": "black", "strokeWidth": 0.9}, "encoding": {"x2": {"field": "t2"}, "y2": {"field": "v2"}}}
              ]
            },
            {
              "width": 154, "height": 180,
              "encoding": {
                "x": {"field": "t", "type": "quantitative", "scale": {"domain": [-0.5, 4.58], "nice": false, "zero": false}, "axis": {"values": [0,1,2,3,4], "tickSize": -5, "labelPadding": 11, "labelFontSize": 12, "title": "TIME  (hr)", "titleX": 155, "titlePadding": 6}},
                "y": {"field": "v", "type": "quantitative", "scale": {"domain": [4.05, 9.91], "nice": false, "zero": false}, "axis": {"orient": "left", "offset": -154, "values": [5,6,7,8,9], "tickSize": 5, "labelFontSize": 12, "title": null}}
              },
              "layer": [
                {"data": {"name": "fig12"}, "transform": [{"filter": "datum.panel === 'D'"}], "mark": {"type": "line", "stroke": "black", "strokeWidth": 1, "strokeDash": [4, 3], "clip": true}, "encoding": {"detail": {"field": "series"}}},
                {"data": {"name": "fig12"}, "transform": [{"filter": "datum.panel === 'D' && datum.sym != null"}], "mark": {"type": "point", "filled": true, "size": 22, "stroke": "black", "strokeWidth": 1, "opacity": 1}, "encoding": {"shape": {"field": "sym", "type": "nominal", "legend": null, "scale": {"domain": ["○","△","▽","□","◇","◆","▼"], "range": ["circle","triangle-up","triangle-down","square","diamond","diamond","triangle-down"]}}, "fill": {"field": "sym", "type": "nominal", "legend": null, "scale": {"domain": ["○","△","▽","□","◇","◆","▼"], "range": ["white","white","white","white","white","black","black"]}}}},
                {"data": {"name": "notes"}, "transform": [{"filter": "datum.panel === 'D'"}], "mark": {"type": "text", "fontSize": 8, "fontWeight": "bold", "color": "black"}, "encoding": {"text": {"field": "label"}}},
                {"data": {"name": "letters"}, "transform": [{"filter": "datum.panel === 'D'"}], "mark": {"type": "text", "fontSize": 17, "fontWeight": "bold", "color": "black"}, "encoding": {"text": {"field": "label"}}},
                {"data": {"name": "pointers"}, "transform": [{"filter": "datum.panel === 'D'"}], "mark": {"type": "rule", "stroke": "black", "strokeWidth": 0.9}, "encoding": {"x2": {"field": "t2"}, "y2": {"field": "v2"}}}
              ]
            },
            {
              "width": 137, "height": 180,
              "encoding": {
                "x": {"field": "t", "type": "quantitative", "scale": {"domain": [0, 4.53], "nice": false, "zero": false}, "axis": {"values": [0,1,2,3,4], "tickSize": -5, "labelPadding": 11, "labelFontSize": 12, "title": null}},
                "y": {"field": "v", "type": "quantitative", "scale": {"domain": [0, 1173], "nice": false, "zero": false}, "axis": null}
              },
              "layer": [
                {"data": {"name": "fig12"}, "transform": [{"filter": "datum.panel === 'G'"}], "mark": {"type": "line", "stroke": "black", "strokeWidth": 1, "strokeDash": [4, 3], "clip": true}, "encoding": {"detail": {"field": "series"}}},
                {"data": {"name": "fig12"}, "transform": [{"filter": "datum.panel === 'G' && datum.sym != null"}], "mark": {"type": "point", "filled": true, "size": 22, "stroke": "black", "strokeWidth": 1, "opacity": 1}, "encoding": {"shape": {"field": "sym", "type": "nominal", "legend": null, "scale": {"domain": ["○","△","▽","□","◇","◆","▼"], "range": ["circle","triangle-up","triangle-down","square","diamond","diamond","triangle-down"]}}, "fill": {"field": "sym", "type": "nominal", "legend": null, "scale": {"domain": ["○","△","▽","□","◇","◆","▼"], "range": ["white","white","white","white","white","black","black"]}}}},
                {"data": {"name": "notes"}, "transform": [{"filter": "datum.panel === 'G'"}], "mark": {"type": "text", "fontSize": 8, "fontWeight": "bold", "color": "black"}, "encoding": {"text": {"field": "label"}}},
                {"data": {"name": "letters"}, "transform": [{"filter": "datum.panel === 'G'"}], "mark": {"type": "text", "fontSize": 17, "fontWeight": "bold", "color": "black"}, "encoding": {"text": {"field": "label"}}},
                {"data": {"name": "pointers"}, "transform": [{"filter": "datum.panel === 'G'"}], "mark": {"type": "rule", "stroke": "black", "strokeWidth": 0.9}, "encoding": {"x2": {"field": "t2"}, "y2": {"field": "v2"}}}
              ]
            },
            {
              "width": 150, "height": 180,
              "encoding": {
                "x": {"field": "t", "type": "quantitative", "scale": {"domain": [-0.44, 4.48], "nice": false, "zero": false}, "axis": {"values": [0,1,2,3,4], "tickSize": -5, "labelPadding": 11, "labelFontSize": 12, "title": null}},
                "y": {"field": "v", "type": "quantitative", "scale": {"domain": [7.55, 10.49], "nice": false, "zero": false}, "axis": {"orient": "right", "values": [8,9,10], "tickSize": 5, "labelFontSize": 12, "title": null}}
              },
              "layer": [
                {"data": {"name": "fig12"}, "transform": [{"filter": "datum.panel === 'H'"}], "mark": {"type": "line", "stroke": "black", "strokeWidth": 1, "strokeDash": [4, 3], "clip": true}, "encoding": {"detail": {"field": "series"}}},
                {"data": {"name": "fig12"}, "transform": [{"filter": "datum.panel === 'H' && datum.sym != null"}], "mark": {"type": "point", "filled": true, "size": 22, "stroke": "black", "strokeWidth": 1, "opacity": 1}, "encoding": {"shape": {"field": "sym", "type": "nominal", "legend": null, "scale": {"domain": ["○","△","▽","□","◇","◆","▼"], "range": ["circle","triangle-up","triangle-down","square","diamond","diamond","triangle-down"]}}, "fill": {"field": "sym", "type": "nominal", "legend": null, "scale": {"domain": ["○","△","▽","□","◇","◆","▼"], "range": ["white","white","white","white","white","black","black"]}}}},
                {"data": {"name": "notes"}, "transform": [{"filter": "datum.panel === 'H'"}], "mark": {"type": "text", "fontSize": 8, "fontWeight": "bold", "color": "black"}, "encoding": {"text": {"field": "label"}}},
                {"data": {"name": "letters"}, "transform": [{"filter": "datum.panel === 'H'"}], "mark": {"type": "text", "fontSize": 17, "fontWeight": "bold", "color": "black"}, "encoding": {"text": {"field": "label"}}},
                {"data": {"name": "pointers"}, "transform": [{"filter": "datum.panel === 'H'"}], "mark": {"type": "rule", "stroke": "black", "strokeWidth": 0.9}, "encoding": {"x2": {"field": "t2"}, "y2": {"field": "v2"}}}
              ]
            }
          ]
        }
      ]
    },
    {
      "title": {"text": [
        "\u00a0\u00a0\u00a0FIG. 13. Macromolecule formation in virginiamycin-treated bacteria. B. subtilis cells were incubated with",
        "the virginiamycin components VM and VS and labeled with [³H]thymidine (A) (15-min pulses given at 15-min",
        "intervals to virginiamycin-treated cells), [6-³H]uracil (B), and ¹⁴C-amino acid mixture (C). Radioactivity",
        "incorporated into DNA (A), RNA (B), and proteins (C) was measured. Virginiamycin: none (control) (○); VM,",
        "50 μg/ml (△); VS, 50 μg/ml (□); VM + VS, 2.5 μg/ml (◇). According to reference 53."],
        "orient": "bottom", "anchor": "start", "frame": "bounds", "font": "Liberation Serif", "fontStyle": "italic", "fontWeight": "normal", "fontSize": 14.5, "lineHeight": 17.5, "offset": 29, "dx": -22},
      "bounds": "flush",
      "spacing": 0,
      "hconcat": [
        {
          "width": 66, "height": 255,
          "view": {"stroke": "white"},
          "data": {"values": []},
          "mark": "point"
        },
        {
          "width": 77, "height": 255,
          "title": {"text": "A = DNA", "anchor": "start", "frame": "group", "offset": 0, "baseline": "alphabetic", "dx": 9, "dy": 31, "fontSize": 12.5},
          "encoding": {
            "x": {"field": "t", "type": "quantitative", "scale": {"domain": [0, 16.5], "nice": false, "zero": false}, "axis": {"values": [5,10,15], "tickSize": 0, "labelPadding": 3, "title": null}},
            "y": {"field": "v", "type": "quantitative", "scale": {"domain": [0, 10.85], "nice": false, "zero": false}, "axis": {"values": [1,2,3,4,5,6,7,8,9,10], "tickSize": 3, "labelPadding": 1, "title": "RADIOACTIVITY  (counts/min x 10⁻³)", "titleFontSize": 11, "titleAngle": 270, "titleX": -19, "titleY": 138, "titleBaseline": "middle", "titleAlign": "center"}}
          },
          "layer": [
            {"data": {"name": "fig13curves"}, "transform": [{"filter": "datum.panel === 'DNA'"}], "mark": {"type": "line", "stroke": "black", "strokeWidth": 1, "interpolate": "monotone", "clip": true}, "encoding": {"detail": {"field": "series"}}},
            {"data": {"name": "fig13pts"}, "transform": [{"filter": "datum.panel === 'DNA'"}], "mark": {"type": "point", "filled": true, "size": 24, "stroke": "black", "strokeWidth": 1, "opacity": 1}, "encoding": {"shape": {"field": "sym", "type": "nominal", "legend": null, "scale": {"domain": ["○","△","▽","□","◇","◆","▼"], "range": ["circle","triangle-up","triangle-down","square","diamond","diamond","triangle-down"]}}, "fill": {"field": "sym", "type": "nominal", "legend": null, "scale": {"domain": ["○","△","▽","□","◇","◆","▼"], "range": ["white","white","white","white","white","black","black"]}}}}
          ]
        },
        {
          "width": 195, "height": 255,
          "title": {"text": "B = RNA", "anchor": "start", "frame": "group", "offset": 0, "baseline": "alphabetic", "dx": 40, "dy": 31, "fontSize": 12.5},
          "encoding": {
            "x": {"field": "t", "type": "quantitative", "scale": {"domain": [0, 40.7], "nice": false, "zero": false}, "axis": {"values": [5,10,15,20,25,30,35,40], "tickSize": 0, "labelPadding": 3, "title": "TIME  (min)", "titleFontSize": 12, "titleX": 150, "titlePadding": 3}},
            "y": {"field": "v", "type": "quantitative", "scale": {"domain": [0, 10.85], "nice": false, "zero": false}, "axis": {"values": [1,2,3,4,5,6,7,8,9,10], "tickSize": -4, "labels": false, "title": null}}
          },
          "layer": [
            {"data": {"name": "fig13curves"}, "transform": [{"filter": "datum.panel === 'RNA'"}], "mark": {"type": "line", "stroke": "black", "strokeWidth": 1, "interpolate": "monotone", "clip": true}, "encoding": {"detail": {"field": "series"}}},
            {"data": {"name": "fig13pts"}, "transform": [{"filter": "datum.panel === 'RNA'"}], "mark": {"type": "point", "filled": true, "size": 24, "stroke": "black", "strokeWidth": 1, "opacity": 1}, "encoding": {"shape": {"field": "sym", "type": "nominal", "legend": null, "scale": {"domain": ["○","△","▽","□","◇","◆","▼"], "range": ["circle","triangle-up","triangle-down","square","diamond","diamond","triangle-down"]}}, "fill": {"field": "sym", "type": "nominal", "legend": null, "scale": {"domain": ["○","△","▽","□","◇","◆","▼"], "range": ["white","white","white","white","white","black","black"]}}}}
          ]
        },
        {
          "width": 183, "height": 255,
          "title": {"text": "C = PROTEINS", "anchor": "start", "frame": "group", "offset": 0, "baseline": "alphabetic", "dx": 17, "dy": 31, "fontSize": 12.5},
          "encoding": {
            "x": {"field": "t", "type": "quantitative", "scale": {"domain": [0, 38.6], "nice": false, "zero": false}, "axis": {"values": [5,10,15,20,25,30,35], "tickSize": 0, "labelPadding": 3, "title": null}},
            "y": {"field": "v", "type": "quantitative", "scale": {"domain": [0, 10.85], "nice": false, "zero": false}, "axis": {"values": [1,2,3,4,5,6,7,8,9,10], "tickSize": -4, "labels": false, "title": null}}
          },
          "layer": [
            {"data": {"name": "fig13curves"}, "transform": [{"filter": "datum.panel === 'PROT'"}], "mark": {"type": "line", "stroke": "black", "strokeWidth": 1, "interpolate": "monotone", "clip": true}, "encoding": {"detail": {"field": "series"}}},
            {"data": {"name": "fig13pts"}, "transform": [{"filter": "datum.panel === 'PROT'"}], "mark": {"type": "point", "filled": true, "size": 24, "stroke": "black", "strokeWidth": 1, "opacity": 1}, "encoding": {"shape": {"field": "sym", "type": "nominal", "legend": null, "scale": {"domain": ["○","△","▽","□","◇","◆","▼"], "range": ["circle","triangle-up","triangle-down","square","diamond","diamond","triangle-down"]}}, "fill": {"field": "sym", "type": "nominal", "legend": null, "scale": {"domain": ["○","△","▽","□","◇","◆","▼"], "range": ["white","white","white","white","white","black","black"]}}}}
          ]
        }
      ]
    }
  ],
  "config": {
    "font": "Liberation Sans",
    "view": {"stroke": "black", "strokeWidth": 1.2},
    "axis": {"domain": false, "grid": false, "tickColor": "black", "tickWidth": 1, "labelColor": "black", "labelFont": "Liberation Sans", "labelFontSize": 11, "labelFontWeight": "bold", "labelPadding": 2, "titleColor": "black", "titleFont": "Liberation Sans", "titleFontSize": 13, "titleFontWeight": "bold"},
    "title": {"color": "black", "font": "Liberation Sans", "fontWeight": "bold"},
    "text": {"color": "black", "font": "Liberation Sans"}
  }
}
